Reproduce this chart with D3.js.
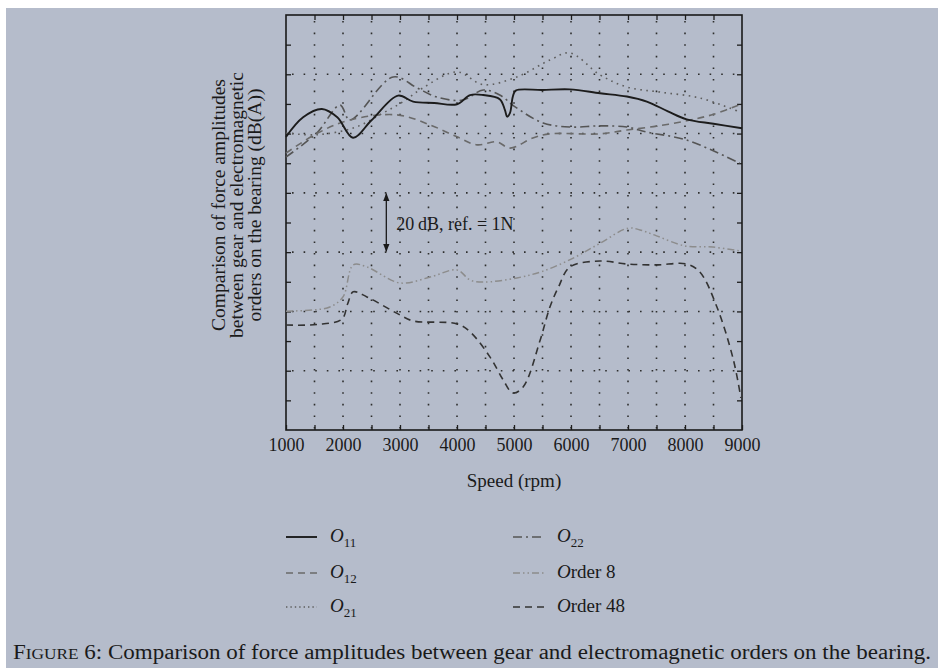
<!DOCTYPE html>
<html>
<head>
<meta charset="utf-8">
<script src="https://cdn.jsdelivr.net/npm/d3@7"></script>
<style>
  html, body { margin: 0; padding: 0; background: #fff; }
  svg { display: block; font-family: "Liberation Serif", "DejaVu Serif", serif; }
</style>
</head>
<body>
<svg id="theSvg" width="939" height="668"></svg>
<script>
// speed (rpm) and amplitude (dB)
const o11Speed = [1000, 1300, 1630, 1900, 2175, 2500, 2965, 3230, 3600, 4000, 4230, 4460, 4750, 4840, 4880, 4930, 4980, 5030, 5500, 5980, 6510, 6980, 7330, 7700, 8030, 8500, 9000];
const o11Db    = [98.9, 105.5, 108.3, 105.5, 98.6, 104.5, 112.8, 110.8, 110.3, 109.9, 113, 113, 111.6, 108, 105.7, 107, 112.5, 114.5, 114.7, 114.9, 113.6, 112.5, 110.8, 107.5, 104.8, 103.3, 101.8];

const o12Speed = [1000, 1540, 2120, 2950, 3530, 4000, 4350, 4700, 4930, 5330, 5630, 6510, 6980, 7500, 8030, 8500, 9000];
const o12Db    = [93.4, 100, 104.6, 106.3, 102.9, 98.9, 96.2, 97.2, 95.1, 98.5, 99.9, 99.9, 101.2, 102.5, 104.3, 106.5, 110];

const o21Speed = [1000, 1540, 2200, 2700, 3050, 3400, 4000, 4460, 5050, 5630, 5980, 6510, 6980, 7560, 8260, 8960];
const o21Db    = [100.2, 99.6, 102, 106.9, 110.7, 115.4, 120.8, 116.5, 119.1, 124.8, 127.2, 119.8, 115.7, 114, 112, 107.3];

const o22Speed = [1000, 1540, 1950, 2120, 2880, 3300, 3650, 4100, 4460, 4750, 5020, 5510, 5980, 6510, 6980, 7330, 8030, 8960];
const o22Db    = [92.1, 100.2, 109.6, 104.6, 119.1, 115.4, 112.3, 111.3, 114.7, 113, 109, 103.6, 102.2, 102.6, 102.2, 100.5, 97.8, 90];

const ord8Speed = [1000, 1480, 1770, 2000, 2180, 2420, 3000, 3530, 4000, 4230, 4460, 5050, 5510, 6040, 6510, 7000, 7210, 7500, 8000, 8490, 8960];
const ord8Db    = [40.1, 40.5, 41.5, 44.9, 55.7, 55, 49.6, 51.6, 54, 50.6, 49.9, 51.3, 53.6, 58, 63, 68.1, 67.5, 65.5, 62.1, 61.7, 60.4];

const ord48Speed = [1000, 1540, 1980, 2080, 2180, 2420, 3000, 3230, 4000, 4230, 4580, 4810, 4980, 5160, 5460, 5630, 5780, 5980, 6510, 6980, 7500, 8030, 8260, 8560, 8850, 8980];
const ord48Db    = [35.4, 35.6, 37.4, 42.5, 46.6, 44.9, 38.8, 36.8, 35.8, 33.1, 24.6, 16.9, 12.5, 14.5, 30.4, 41.5, 48.2, 55, 57, 56, 55.7, 56, 53.3, 41.5, 23.6, 10.8];

const xTickLabels = ["1000", "2000", "3000", "4000", "5000", "6000", "7000", "8000", "9000"];

const seriesNames = ["O11", "O12", "O21", "O22", "Order 8", "Order 48"];

const svg = d3.select("#theSvg");
const width = 939, height = 668;
const plot = {left: 286, right: 742, top: 15, bottom: 430};

// page background
svg.append("rect")
  .attr("x", 6).attr("y", 8)
  .attr("width", width - 7).attr("height", height - 8)
  .attr("fill", "#b5bccb");

const x = d3.scaleLinear().domain([1000, 9000]).range([plot.left, plot.right]);
const y = d3.scaleLinear().domain([0, 140]).range([plot.bottom, plot.top]);

// dotted grid
const grid = svg.append("g")
  .attr("stroke", "#2e2e2e")
  .attr("stroke-width", 1.6)
  .attr("stroke-dasharray", "1.6,10");

grid.selectAll(".vgrid")
  .data(d3.range(1500, 9000, 500))
  .enter().append("line")
  .attr("class", "vgrid")
  .attr("x1", d => x(d)).attr("x2", d => x(d))
  .attr("y1", plot.top + 6).attr("y2", plot.bottom);

grid.selectAll(".hgrid")
  .data(d3.range(20, 140, 20))
  .enter().append("line")
  .attr("class", "hgrid")
  .attr("y1", d => y(d)).attr("y2", d => y(d))
  .attr("x1", plot.left + 6).attr("x2", plot.right);

// axes (ticks pointing inward)
const tickCol = "#1e1e1e";
const xAxisB = d3.axisBottom(x).tickValues(d3.range(1000, 9001, 500))
  .tickSizeInner(-5).tickSizeOuter(0)
  .tickFormat(d => (d % 1000 === 0 ? xTickLabels[(d - 1000) / 1000] : ""));
svg.append("g")
  .attr("transform", "translate(0," + plot.bottom + ")")
  .call(xAxisB)
  .call(g => g.select(".domain").remove())
  .call(g => g.selectAll("line").attr("stroke", tickCol).attr("stroke-width", 1.3))
  .call(g => g.selectAll("text")
    .attr("fill", "#1a1a1a").attr("font-size", 18).attr("dy", "1.0em")
    .attr("font-family", "Liberation Serif, serif"));

svg.append("g")
  .attr("transform", "translate(0," + plot.top + ")")
  .call(d3.axisTop(x).tickValues(d3.range(1500, 9000, 500)).tickSizeInner(-5).tickSizeOuter(0).tickFormat(""))
  .call(g => g.select(".domain").remove())
  .call(g => g.selectAll("line").attr("stroke", tickCol).attr("stroke-width", 1.3));

svg.append("g")
  .attr("transform", "translate(" + plot.right + ",0)")
  .call(d3.axisRight(y).tickValues(d3.range(10, 140, 10)).tickSizeInner(-5).tickSizeOuter(0).tickFormat(""))
  .call(g => g.select(".domain").remove())
  .call(g => g.selectAll("line").attr("stroke", tickCol).attr("stroke-width", 1.3));

svg.append("g")
  .attr("transform", "translate(" + plot.left + ",0)")
  .call(d3.axisLeft(y).tickValues(d3.range(10, 140, 10)).tickSizeInner(-5).tickSizeOuter(0).tickFormat(""))
  .call(g => g.select(".domain").remove())
  .call(g => g.selectAll("line").attr("stroke", tickCol).attr("stroke-width", 1.3));

// frame
svg.append("rect")
  .attr("x", plot.left).attr("y", plot.top)
  .attr("width", plot.right - plot.left).attr("height", plot.bottom - plot.top)
  .attr("fill", "none").attr("stroke", "#1a1a1a").attr("stroke-width", 1.6);

// series
const styles = {
  "O11":      {speed: o11Speed,   db: o11Db,   stroke: "#1c1c1c", width: 1.9, dash: null},
  "O12":      {speed: o12Speed,   db: o12Db,   stroke: "#6a6a6a", width: 1.6, dash: "7,5"},
  "O21":      {speed: o21Speed,   db: o21Db,   stroke: "#5e5e5e", width: 1.6, dash: "1.6,4.5"},
  "O22":      {speed: o22Speed,   db: o22Db,   stroke: "#555",    width: 1.6, dash: "9,4,2,4"},
  "Order 8":  {speed: ord8Speed,  db: ord8Db,  stroke: "#8c8c8c", width: 1.5, dash: "7,3,1.5,3,1.5,3"},
  "Order 48": {speed: ord48Speed, db: ord48Db, stroke: "#333",    width: 1.6, dash: "7,5"}
};

const line = d3.line()
  .x(d => x(d[0]))
  .y(d => y(d[1]))
  .curve(d3.curveCatmullRom.alpha(0.5));

const lines = svg.append("g").attr("fill", "none").attr("stroke-linecap", "butt");
seriesNames.slice().reverse().forEach(function(name) {
  const s = styles[name];
  lines.append("path")
    .attr("d", line(s.speed.map((v, i) => [v, s.db[i]])))
    .attr("stroke", s.stroke)
    .attr("stroke-width", s.width)
    .attr("stroke-dasharray", s.dash);
});

// 20 dB scale arrow
const arrowX = x(2760);
svg.append("defs").append("marker")
  .attr("id", "ah").attr("viewBox", "0 0 10 10")
  .attr("refX", 9).attr("refY", 5)
  .attr("markerWidth", 6).attr("markerHeight", 6)
  .attr("orient", "auto-start-reverse")
  .append("path").attr("d", "M0,1 L10,5 L0,9 Z").attr("fill", "#1a1a1a");
svg.append("line")
  .attr("x1", arrowX).attr("x2", arrowX)
  .attr("y1", y(80) + 1).attr("y2", y(60) - 1)
  .attr("stroke", "#1a1a1a").attr("stroke-width", 1.3)
  .attr("marker-start", "url(#ah)").attr("marker-end", "url(#ah)");
svg.append("text")
  .attr("x", arrowX + 10).attr("y", y(68) + 2)
  .attr("font-size", 18).attr("fill", "#1a1a1a")
  .text("20\u2009dB, ref. = 1N");

// axis titles
svg.append("text")
  .attr("x", x(5000)).attr("y", 487)
  .attr("text-anchor", "middle").attr("font-size", 19).attr("fill", "#1a1a1a")
  .text("Speed (rpm)");

const yTitle = ["Comparison of force amplitudes", "between gear and electromagnetic", "orders on the bearing (dB(A))"];
svg.append("g")
  .attr("transform", "translate(225,205) rotate(-90)")
  .selectAll("text").data(yTitle).enter().append("text")
  .attr("x", 0).attr("y", (d, i) => i * 18)
  .attr("text-anchor", "middle").attr("font-size", 19.5).attr("fill", "#1a1a1a")
  .text(d => d);

// legend
const legendItems = [
  {name: "O11",      col: 0, row: 0, sub: "11"},
  {name: "O12",      col: 0, row: 1, sub: "12"},
  {name: "O21",      col: 0, row: 2, sub: "21"},
  {name: "O22",      col: 1, row: 0, sub: "22"},
  {name: "Order 8",  col: 1, row: 1, rest: "rder 8"},
  {name: "Order 48", col: 1, row: 2, rest: "rder 48"}
];
const legend = svg.append("g");
const legCols = [286, 513];
const legRows = [537, 573, 607];
legendItems.forEach(function(it) {
  const s = styles[it.name];
  const lx = legCols[it.col], ly = legRows[it.row];
  legend.append("line")
    .attr("x1", lx).attr("x2", lx + 31).attr("y1", ly).attr("y2", ly)
    .attr("stroke", s.stroke).attr("stroke-width", s.width)
    .attr("stroke-dasharray", s.dash ? (it.name === "O21" ? "1.4,3" : s.dash) : null);
  const t = legend.append("text")
    .attr("x", lx + 44).attr("y", ly + 5)
    .attr("font-size", 19).attr("fill", "#1a1a1a");
  t.append("tspan").attr("font-style", "italic").text("O");
  if (it.sub) {
    t.append("tspan").attr("font-size", 13).attr("dy", 5).text(it.sub);
  } else {
    t.append("tspan").text(it.rest);
  }
});

// caption
const cap = svg.append("text")
  .attr("x", 472).attr("y", 659)
  .attr("text-anchor", "middle").attr("font-size", 20).attr("fill", "#1a1a1a")
  .attr("textLength", 918).attr("lengthAdjust", "spacingAndGlyphs");
cap.append("tspan").text("F");
cap.append("tspan").attr("font-size", 15).text("IGURE");
cap.append("tspan").text(" 6: Comparison of force amplitudes between gear and electromagnetic orders on the bearing.");
</script>
</body>
</html>
